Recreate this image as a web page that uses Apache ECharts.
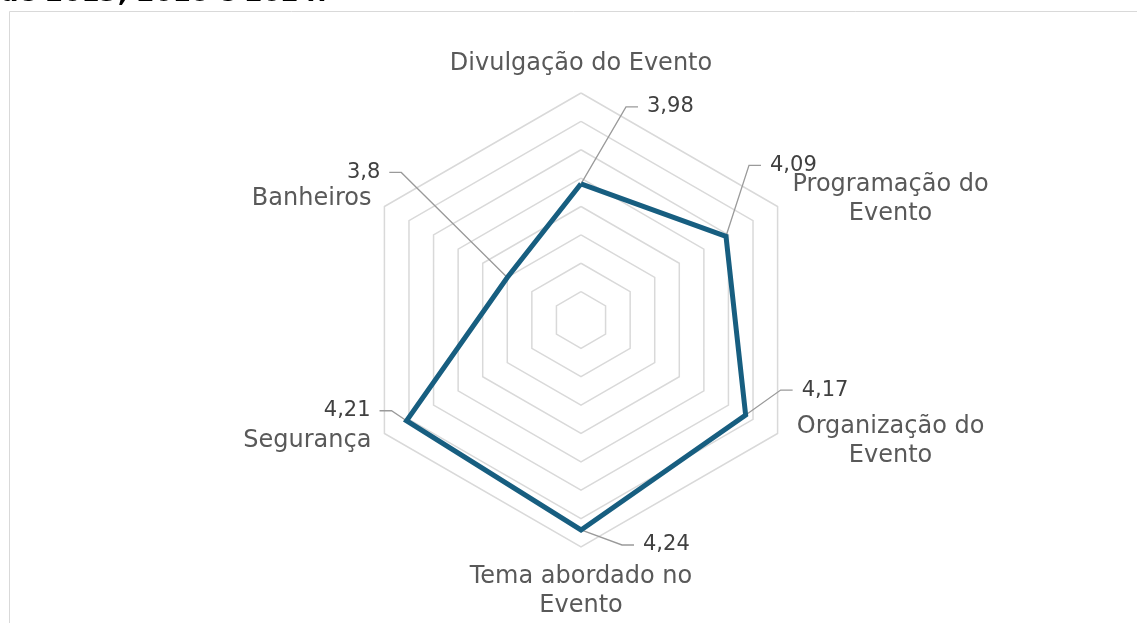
<!DOCTYPE html>
<html>
<head>
<meta charset="utf-8">
<script src="https://cdn.jsdelivr.net/npm/echarts@6/dist/echarts.min.js"></script>
<style>
  html, body { margin: 0; padding: 0; background: #fff; }
  #chart { width: 1137px; height: 623px; }
</style>
</head>
<body>
<div id="chart"></div>
<script>
// eixos na ordem do echarts (anti-horario a partir do topo)
const categories = [
  'Divulgação do Evento',
  'Banheiros',
  'Segurança',
  'Tema abordado no\nEvento',
  'Organização do\nEvento',
  'Programação do\nEvento'
];
const values = [3.98, 3.8, 4.21, 4.24, 4.17, 4.09];
const axisMin = 3.5;
const axisMax = 4.3;
const rings = 8;
const topText = 'de 2013, 2018 e 2024.';

// deslocamento do rotulo em relacao ao ponto (linha de chamada)
const labelOffsets = [[57, -77], [-118, -105], [-27, -10], [53, 15], [47, -25], [35, -71]];

const FONT = 'DejaVu Sans';
const chart = echarts.init(document.getElementById('chart'));

chart.setOption({
  animation: false,
  radar: {
    center: [581, 320],
    radius: 227,
    startAngle: 90,
    splitNumber: rings,
    shape: 'polygon',
    axisNameGap: 15,
    indicator: categories.map(n => ({ name: n, min: axisMin, max: axisMax })),
    axisName: {
      color: '#595959',
      fontFamily: FONT,
      fontSize: 24,
      lineHeight: 29,
      formatter: function (name) {
        if (name.indexOf('\n') < 0) return name;
        return name.split('\n').map(s => '{c|' + s + '}').join('\n');
      },
      rich: {
        c: { width: 200, align: 'center', fontFamily: FONT, fontSize: 24, lineHeight: 29, color: '#595959' }
      }
    },
    splitLine: { lineStyle: { color: '#d9d9d9', width: 1.5 } },
    splitArea: { show: false },
    axisLine: { show: false },
    axisTick: { show: false },
    axisLabel: { show: false }
  },
  series: [
    {
      type: 'radar',
      symbol: 'none',
      lineStyle: { color: '#175e80', width: 5, join: 'miter' },
      data: [{ value: values }]
    }
  ]
});

// rotulos de dados com linha de chamada
const cs = chart.getModel().getComponent('radar').coordinateSystem;
const graphics = [
  {
    type: 'rect',
    shape: { x: 9.5, y: 11.5, width: 1300, height: 800 },
    style: { fill: null, stroke: '#d9d9d9', lineWidth: 1 }
  },
  {
    type: 'text',
    x: 0,
    y: -6,
    style: {
      text: topText, fill: '#000', font: 'bold 26px ' + FONT,
      textAlign: 'left', textVerticalAlign: 'middle', align: 'left', verticalAlign: 'middle'
    }
  }
];
values.forEach(function (v, i) {
  const p = cs.dataToPoint(v, i);
  const o = labelOffsets[i];
  const dir = o[0] > 0 ? 1 : -1;
  const end = [p[0] + o[0], p[1] + o[1]];
  const elbow = [end[0] - dir * 12, end[1]];
  graphics.push({
    type: 'polyline',
    shape: { points: [p, elbow, end] },
    style: { stroke: '#9a9a9a', lineWidth: 1.3, fill: null }
  });
  graphics.push({
    type: 'text',
    x: end[0] + dir * 9,
    y: end[1],
    style: {
      text: String(v).replace('.', ','),
      fill: '#404040',
      font: '21px ' + FONT,
      textAlign: dir > 0 ? 'left' : 'right',
      align: dir > 0 ? 'left' : 'right',
      textVerticalAlign: 'middle',
      verticalAlign: 'middle'
    }
  });
});
chart.setOption({ graphic: graphics });
</script>
</body>
</html>
